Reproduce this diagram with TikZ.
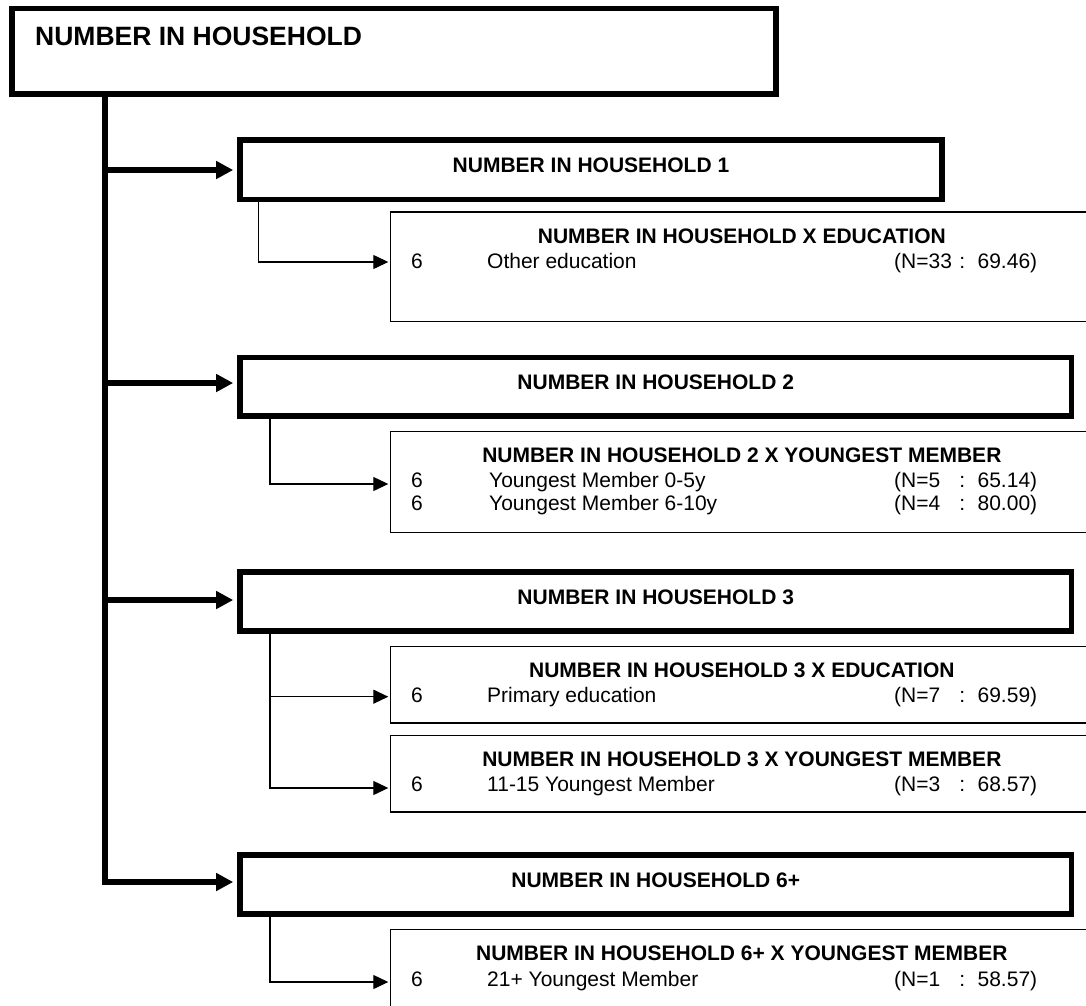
\documentclass[tikz,border=0pt]{standalone}
\usepackage{fontspec}
\setmainfont{Liberation Sans}
\usetikzlibrary{arrows.meta}

% N and score columns of a result line
\newcommand{\nval}[2]{\makebox[62pt][l]{(N=#1}\makebox[12pt][c]{:}\makebox[69pt][r]{#2)}}

\begin{document}
\begin{tikzpicture}[x=1pt,y=-1pt,
  heavy/.style={draw=black,line width=5.5pt,inner sep=0pt,outer sep=0pt},
  light/.style={draw=black,line width=1.3pt,inner sep=0pt,outer sep=0pt,minimum width=702.3pt},
  lvl/.style={heavy,font=\bfseries\fontsize{21}{25}\selectfont,text height=15pt,text depth=10pt},
  head/.style={anchor=base,inner sep=0pt,font=\bfseries\fontsize{21}{25}\selectfont},
  item/.style={anchor=base west,inner sep=0pt,font=\fontsize{21}{25}\selectfont},
  trunk/.style={line width=5.5pt,-{Triangle[length=17pt,width=17pt]},shorten >=6.8pt},
  twig/.style={line width=1.2pt,-{Triangle[length=15pt,width=14pt]},shorten >=2.4pt}]

\useasboundingbox (0,0) rectangle (1086,1005);

%ROOT
\node[heavy,minimum width=764pt,minimum height=85.3pt](top) at (394,51.35) {};
\node[anchor=base west,inner sep=0pt,font=\bfseries\fontsize{26.5}{30}\selectfont](toptxt) at (35,45) {NUMBER IN HOUSEHOLD};

%SPLITS
\node[lvl,minimum width=702pt,minimum height=59.5pt](b1) at (591,169.75) {NUMBER IN HOUSEHOLD 1};
\node[lvl,minimum width=831.5pt,minimum height=58.5pt](b2) at (655.75,386.75) {NUMBER IN HOUSEHOLD 2};
\node[lvl,minimum width=831.5pt,minimum height=59pt](b3) at (655.75,601.5) {NUMBER IN HOUSEHOLD 3};
\node[lvl,minimum width=831.5pt,minimum height=59pt](b6) at (655.75,884.5) {NUMBER IN HOUSEHOLD 6+};

%RESULTS
\node[light,minimum height=109.7pt](s1) at (741.85,266.85) {};
\node[head](s1h) at (741.85,243) {NUMBER IN HOUSEHOLD X EDUCATION};
\node[item](s1a) at (411,268) {6};
\node[item](s1b) at (487,268) {Other education};
\node[item](s1c) at (894,268) {\nval{33}{69.46}};

\node[light,minimum height=101.2pt](s2) at (741.85,482.1) {};
\node[head](s2h) at (741.85,462) {NUMBER IN HOUSEHOLD 2 X YOUNGEST MEMBER};
\node[item](s2a) at (411,487.5) {6};
\node[item](s2b) at (489,487.5) {Youngest Member 0-5y};
\node[item](s2c) at (894,487.5) {\nval{5}{65.14}};
\node[item](s2d) at (411,510.5) {6};
\node[item](s2e) at (489,510.5) {Youngest Member 6-10y};
\node[item](s2f) at (894,510.5) {\nval{4}{80.00}};

\node[light,minimum height=76.5pt](s3) at (741.85,684.75) {};
\node[head](s3h) at (741.85,677) {NUMBER IN HOUSEHOLD 3 X EDUCATION};
\node[item](s3a) at (411,702) {6};
\node[item](s3b) at (487,702) {Primary education};
\node[item](s3c) at (894,702) {\nval{7}{69.59}};

\node[light,minimum height=76.5pt](s4) at (741.85,773.75) {};
\node[head](s4h) at (741.85,766.5) {NUMBER IN HOUSEHOLD 3 X YOUNGEST MEMBER};
\node[item](s4a) at (411,791.5) {6};
\node[item](s4b) at (487,791.5) {11-15 Youngest Member};
\node[item](s4c) at (894,791.5) {\nval{3}{68.57}};

\node[light,minimum height=101.5pt](s6) at (741.85,980.25) {};
\node[head](s6h) at (741.85,960.5) {NUMBER IN HOUSEHOLD 6+ X YOUNGEST MEMBER};
\node[item](s6a) at (411,986) {6};
\node[item](s6b) at (487,986) {21+ Youngest Member};
\node[item](s6c) at (894,986) {\nval{1}{58.57}};

%BENDS
\coordinate (t1) at (105,170);
\coordinate (t2) at (105,383);
\coordinate (t3) at (105,600);
\coordinate (t4) at (105,882);
\coordinate (k1) at (258.5,262);
\coordinate (k2) at (270,484);
\coordinate (k3) at (270,696.7);
\coordinate (k4) at (270,788);
\coordinate (k6) at (270,982);

\draw[trunk] (top.south -| t4) -- (t4) -- (b6.west |- t4);
\draw[trunk] (t1) -- (b1.west |- t1);
\draw[trunk] (t2) -- (b2.west |- t2);
\draw[trunk] (t3) -- (b3.west |- t3);

\draw[twig] (b1.south -| k1) -- (k1) -- (s1.west |- k1);
\draw[twig] (b2.south -| k2) -- (k2) -- (s2.west |- k2);
\draw[twig] (b3.south -| k4) -- (k4) -- (s4.west |- k4);
\draw[twig] (k3) -- (s3.west |- k3);
\draw[twig] (b6.south -| k6) -- (k6) -- (s6.west |- k6);

\end{tikzpicture}
\end{document}
